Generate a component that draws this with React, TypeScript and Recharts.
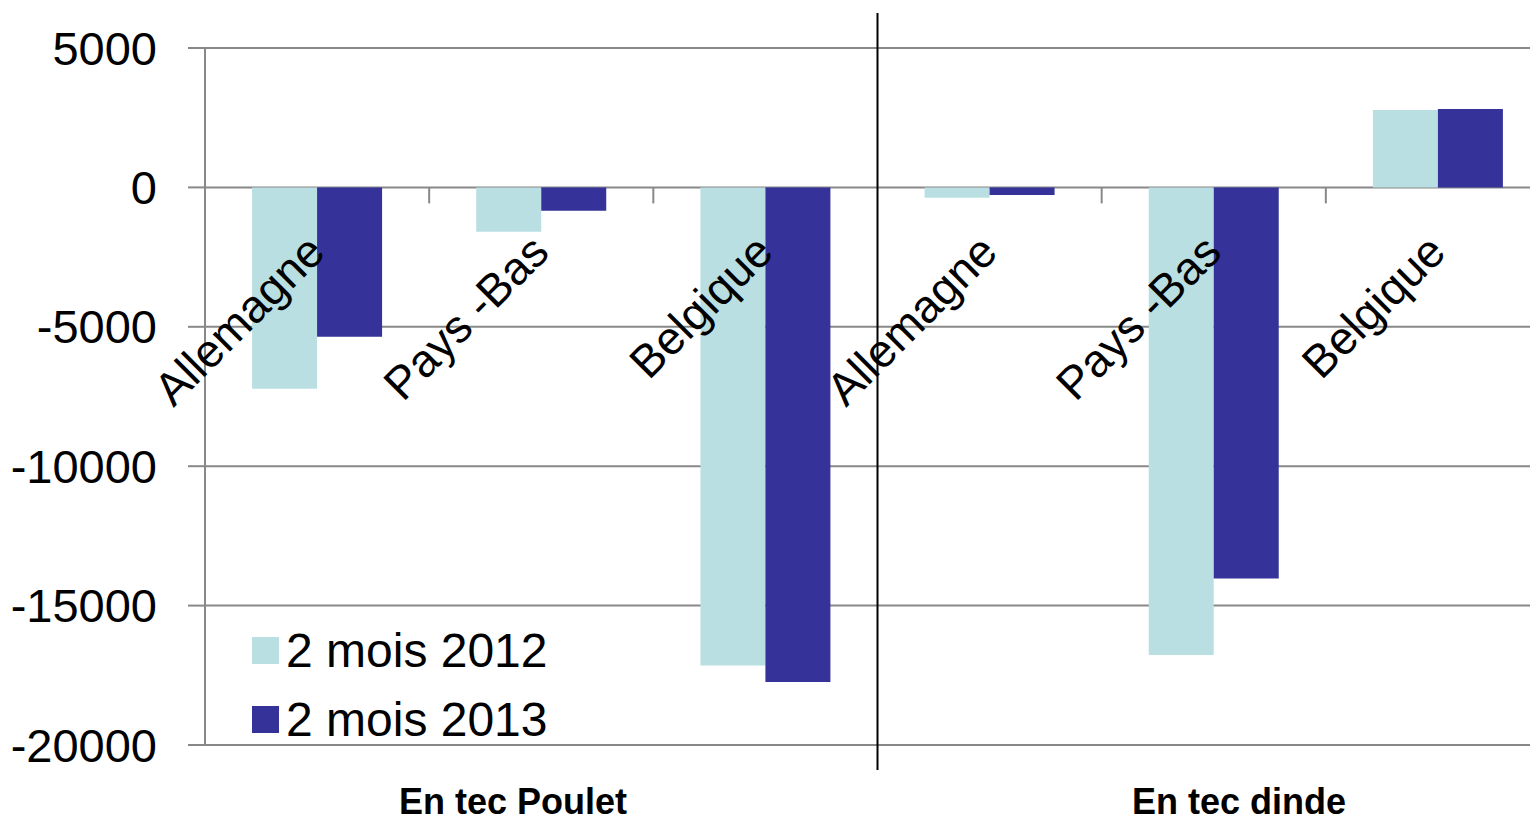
import { Bar, BarChart, CartesianGrid, Legend, ReferenceLine, XAxis, YAxis } from 'recharts'

const FONT = '"Liberation Sans", Arial, sans-serif'

// data
const groups = ['Poulet', 'Poulet', 'Poulet', 'dinde', 'dinde', 'dinde']
const categories = ['Allemagne', 'Pays -Bas', 'Belgique', 'Allemagne', 'Pays -Bas', 'Belgique']
const values2012 = [-7220, -1590, -17150, -370, -16770, 2780]
const values2013 = [-5360, -840, -17740, -270, -14030, 2810]
const yTicks = [5000, 0, -5000, -10000, -15000, -20000]
const groupLabels = ['En tec Poulet', 'En tec dinde']

const data = categories.map((c, i) => ({ id: `${groups[i]}|${c}`, name: c, a: values2012[i], b: values2013[i] }))
const ids = data.map((d) => d.id)

const W = 1550
const H = 823
const TOP = 48
const BOTTOM = 78
const AXIS_H = 1
const Y_MAX = 5000
const Y_MIN = -20000
const ZERO_Y = TOP + ((H - TOP - BOTTOM) * Y_MAX) / (Y_MAX - Y_MIN)

function CategoryTick({ x, index }: any) {
  return (
    <text
      transform={`translate(${x + 10},${ZERO_Y + 67}) rotate(-45)`}
      textAnchor="end"
      fontSize={46}
      fontFamily={FONT}
      fill="#000"
    >
      {categories[index]}
    </text>
  )
}

// short tick under the zero line at a category boundary
const boundaryTick = ({ x1 }: any) => (
  <line x1={x1} x2={x1} y1={ZERO_Y} y2={ZERO_Y + 16} stroke="#888" strokeWidth={2} />
)
// the separator between the two groups
const separator = ({ x1 }: any) => <line x1={x1} x2={x1} y1={13} y2={770} stroke="#000" strokeWidth={2} />

function LegendContent({ payload }: any) {
  return (
    <div style={{ fontFamily: FONT }}>
      {(payload || []).map((e: any) => (
        <div key={e.value} style={{ display: 'flex', alignItems: 'center', height: 69 }}>
          <span style={{ width: 27, height: 27, background: e.color, marginRight: 7, flex: 'none' }} />
          <span style={{ fontSize: 48, color: '#000', whiteSpace: 'nowrap' }}>{e.value}</span>
        </div>
      ))}
    </div>
  )
}

export default function App() {
  return (
    <div style={{ position: 'fixed', left: 0, top: 0, width: 1530, height: 823, overflow: 'hidden', background: '#fff' }}>
      <BarChart
        width={W}
        height={H}
        data={data}
        margin={{ top: TOP, right: 0, bottom: BOTTOM - AXIS_H, left: 0 }}
        barCategoryGap="21%"
        barGap={0}
      >
        <CartesianGrid vertical={false} stroke="#888" strokeWidth={2} />
        <YAxis
          type="number"
          domain={[Y_MIN, Y_MAX]}
          ticks={yTicks}
          width={205}
          axisLine={{ stroke: '#888', strokeWidth: 2 }}
          tickLine={{ stroke: '#888', strokeWidth: 2 }}
          tickSize={17}
          tickMargin={31}
          tick={{ fontSize: 47, fill: '#000', fontFamily: FONT }}
          interval={0}
        />
        <Bar dataKey="a" name="2 mois 2012" fill="#B9DFE2" isAnimationActive={false} />
        <Bar dataKey="b" name="2 mois 2013" fill="#353399" isAnimationActive={false} />
        <XAxis dataKey="id" height={AXIS_H} axisLine={false} tickLine={false} tick={CategoryTick} interval={0} />
        {ids.slice(0, 5).map((id, i) => (
          <ReferenceLine key={id} x={id} position="end" shape={i === 2 ? separator : boundaryTick} />
        ))}
        <Legend
          layout="vertical"
          align="center"
          verticalAlign="middle"
          wrapperStyle={{ left: 252, top: 616, width: 400 }}
          content={LegendContent}
        />
      </BarChart>
      {groupLabels.map((g, i) => (
        <div
          key={g}
          style={{
            position: 'absolute',
            left: (i === 0 ? 513 : 1239) - 200,
            width: 400,
            top: 787,
            textAlign: 'center',
            fontFamily: FONT,
            fontWeight: 'bold',
            fontSize: 36,
            lineHeight: '30px',
            color: '#000',
          }}
        >
          {g}
        </div>
      ))}
    </div>
  )
}
